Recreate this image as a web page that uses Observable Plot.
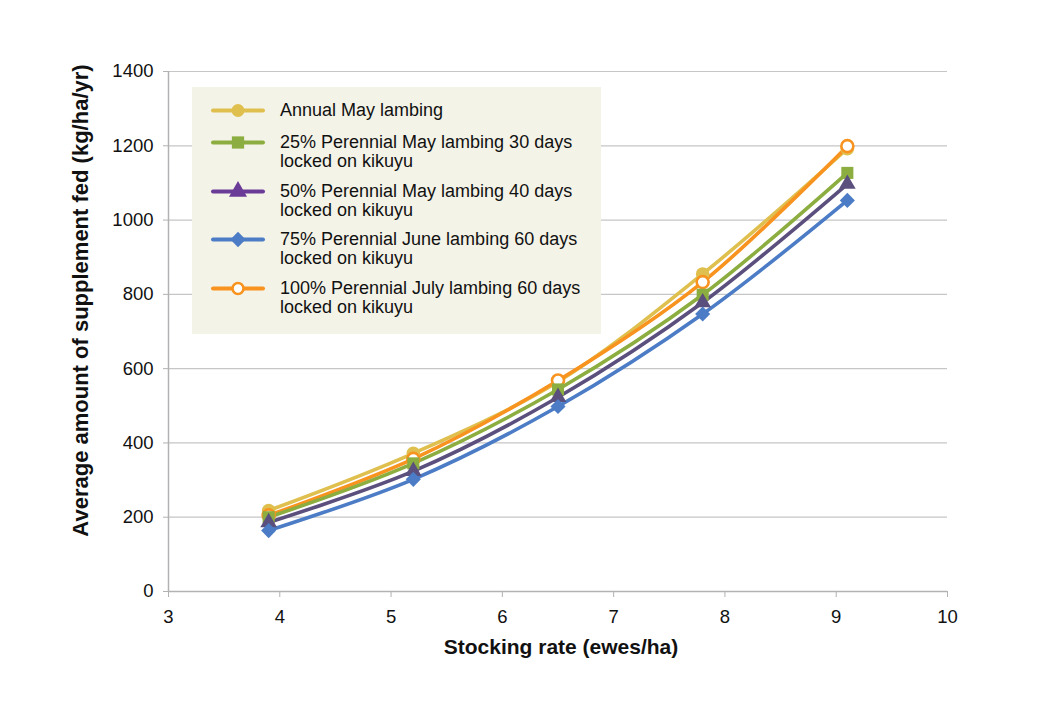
<!DOCTYPE html>
<html>
<head>
<meta charset="utf-8">
<script src="https://cdn.jsdelivr.net/npm/d3@7"></script>
<script src="https://cdn.jsdelivr.net/npm/@observablehq/plot@0.6"></script>
<style>
  html, body { margin: 0; padding: 0; background: #fff; }
  #wrap { position: relative; width: 1040px; height: 708px; font-family: "Liberation Sans", Arial, Helvetica, sans-serif; }
  #legend { position: absolute; left: 192px; top: 87px; width: 409px; height: 247px; background: #f4f3e8; box-sizing: border-box; padding: 14px 0 0 20px; display: flex; flex-direction: column; gap: 10.5px; }
  .row { display: flex; align-items: flex-start; }
  .row svg { flex: none; margin-right: 16px; }
  .row .lab { font-size: 18px; line-height: 19px; color: #111; }
</style>
</head>
<body>
<div id="wrap"></div>
<script>
const stockingRate = [3.9, 5.2, 6.5, 7.8, 9.1];
const annualMay   = [218, 372, 565, 855, 1192];
const per25May    = [200, 345, 544, 799, 1127];
const per50May    = [186, 324, 523, 778, 1097];
const per75June   = [164, 302, 498, 747, 1053];
const per100July  = [205, 357, 568, 833, 1199];
const seriesNames = [
  "Annual May lambing",
  "25% Perennial May lambing 30 days locked on kikuyu",
  "50% Perennial May lambing 40 days locked on kikuyu",
  "75% Perennial June lambing 60 days locked on kikuyu",
  "100% Perennial July lambing 60 days locked on kikuyu"
];
const legendLines = [
  ["Annual May lambing"],
  ["25% Perennial May lambing 30 days", "locked on kikuyu"],
  ["50% Perennial May lambing 40 days", "locked on kikuyu"],
  ["75% Perennial June lambing 60 days", "locked on kikuyu"],
  ["100% Perennial July lambing 60 days", "locked on kikuyu"]
];
const yTicks = [0, 200, 400, 600, 800, 1000, 1200, 1400];
const xTicks = [3, 4, 5, 6, 7, 8, 9, 10];
const xTitle = "Stocking rate (ewes/ha)";
const yTitle = "Average amount of supplement fed (kg/ha/yr)";

const styles = [
  {values: annualMay,  line: "#dfc04f", symbol: "circle",   fill: "#dfc04f", stroke: "none", legendFill: "#dfc04f"},
  {values: per25May,   line: "#8cad3f", symbol: "square",   fill: "#8cad3f", stroke: "none", legendFill: "#8cad3f"},
  {values: per50May,   line: "#5b4f7d", symbol: "triangle", fill: "#5b4f7d", stroke: "none", legendFill: "#6b3b98", legendLine: "#6b3b98"},
  {values: per75June,  line: "#4b7cc5", symbol: "diamond2", fill: "#4b7cc5", stroke: "none", legendFill: "#4b7cc5"},
  {values: per100July, line: "#f7931e", symbol: "circle",   fill: "#ffffff", stroke: "#f7931e", legendFill: "#ffffff"}
];

const drawOrder = [0, 4, 1, 2, 3];
const table = styles.map((s, i) => stockingRate.map((x, j) => ({series: seriesNames[i], x, y: s.values[j]})));

const marks = [
  Plot.gridY(yTicks, {stroke: "#c6c6c8", strokeOpacity: 1, strokeWidth: 1.2}),
  Plot.ruleX([3], {stroke: "#b2b2b4", strokeWidth: 1.5}),
  Plot.ruleY([0], {stroke: "#b2b2b4", strokeWidth: 1.5}),
  Plot.axisY(yTicks, {tickSize: 5, tickPadding: 10, stroke: "#b2b2b4", fill: "#111", label: null, fontSize: 18.5, tickFormat: d => String(d)}),
  Plot.axisX(xTicks, {tickSize: 6, tickPadding: 12, stroke: "#b2b2b4", fill: "#111", label: null, fontSize: 18.5, tickFormat: d => String(d)}),
];
for (const i of drawOrder) {
  const s = styles[i];
  marks.push(Plot.line(table[i], {x: "x", y: "y", stroke: s.line, strokeWidth: 3.6, curve: "catmull-rom"}));
}
for (const i of drawOrder) {
  const s = styles[i];
  const r = s.stroke !== "none" ? 6 : (s.symbol === "triangle" ? 6.2 : 6.8);
  marks.push(Plot.dot(table[i], {x: "x", y: "y", symbol: () => s.symbol, r, fill: s.fill, stroke: s.stroke, strokeWidth: 2.6}));
}
marks.push(Plot.text([xTitle], {text: d => d, frameAnchor: "bottom", dy: 62, dx: 3, fontSize: 21, fontWeight: "bold", fill: "#111"}));
marks.push(Plot.text([yTitle], {text: d => d, frameAnchor: "left", textAnchor: "middle", dx: -88, dy: -31, rotate: -90, fontSize: 22, fontWeight: "bold", fill: "#111"}));

const chart = Plot.plot({
  width: 1040,
  height: 708,
  marginLeft: 168,
  marginRight: 93,
  marginTop: 71,
  marginBottom: 117,
  x: {domain: [3, 10]},
  y: {domain: [0, 1400]},
  symbol: {type: "identity"},
  style: {fontFamily: "Liberation Sans, Arial, Helvetica, sans-serif", fontSize: "18.5px", background: "#fff", overflow: "visible"},
  marks
});
const wrap = document.getElementById("wrap");
wrap.appendChild(chart);

// legend
const legend = document.createElement("div");
legend.id = "legend";
const symPath = {
  circle: d3.symbol(d3.symbolCircle, Math.PI * 6.5 * 6.5)(),
  square: d3.symbol(d3.symbolSquare, 150)(),
  triangle: d3.symbol(d3.symbolTriangle, 140)(),
  diamond2: d3.symbol(d3.symbolDiamond2, 150)()
};
styles.forEach((s, i) => {
  const row = document.createElement("div");
  row.className = "row";
  const ln = s.legendLine || s.line;
  const isOpen = s.stroke !== "none";
  const path = isOpen ? d3.symbol(d3.symbolCircle, Math.PI * 5.5 * 5.5)() : symPath[s.symbol];
  row.innerHTML = `<svg width="52" height="19" viewBox="0 0 52 19" style="overflow:visible">
      <line x1="1" x2="51" y1="9.5" y2="9.5" stroke="${ln}" stroke-width="4" stroke-linecap="round"/>
      <path d="${path}" transform="translate(26,9.5)" fill="${s.legendFill}" stroke="${isOpen ? s.stroke : "none"}" stroke-width="2.6"/>
    </svg>`;
  const lab = document.createElement("div");
  lab.className = "lab";
  lab.innerHTML = legendLines[i].join("<br>");
  row.appendChild(lab);
  if (i === 0) row.style.marginBottom = "2.5px";
  legend.appendChild(row);
});
wrap.appendChild(legend);
</script>
</body>
</html>
